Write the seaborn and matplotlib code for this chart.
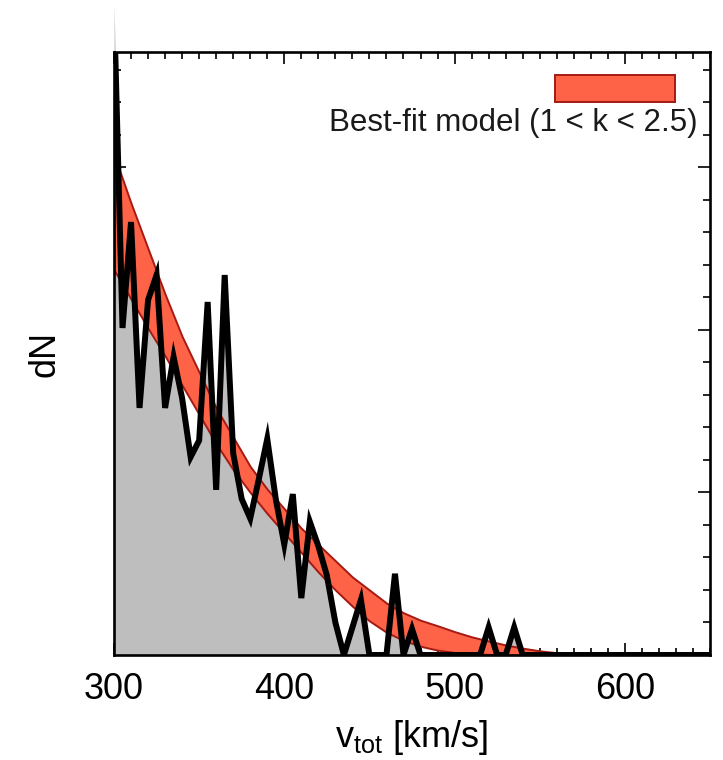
import numpy as np
import pandas as pd
import matplotlib
matplotlib.use("Agg")
import matplotlib.pyplot as plt
import seaborn as sns
from matplotlib.patches import Rectangle
from matplotlib.ticker import MultipleLocator, NullFormatter

# ---- data ----
v_hist = [300, 305, 310, 315, 320, 325, 330, 335, 340, 345, 350, 355, 360, 365,
          370, 375, 380, 385, 390, 395, 400, 405, 410, 415, 420, 425, 430, 435,
          440, 445, 450, 455, 460, 465, 470, 475, 480, 485, 490, 495, 500, 505,
          510, 515, 520, 525, 530, 535, 540, 545, 550, 560, 570, 580, 590, 600,
          610, 620, 630, 640, 650]
dN = [20.0, 10.06, 13.32, 7.6, 10.92, 11.69, 7.6, 9.17, 7.9, 6.09, 6.6, 10.86, 5.08, 11.69,
      6.2, 4.8, 4.2, 5.4, 6.65, 4.8, 3.4, 4.95, 1.75, 4.1, 3.35, 2.45, 1.0, 0.0,
      0.85, 1.7, 0.0, 0.0, 0.0, 2.5, 0.0, 0.8, 0.0, 0.0, 0.0, 0.0, 0.0, 0.0,
      0.0, 0.0, 0.85, 0.0, 0.0, 0.85, 0.0, 0.0, 0.0, 0.0, 0.0, 0.0, 0.0, 0.0,
      0.0, 0.0, 0.0, 0.0, 0.0]

v_model = [300, 310, 320, 330, 340, 350, 360, 370, 380, 390, 400, 410, 420, 430,
           440, 450, 460, 470, 480, 490, 500, 510, 520, 530, 540, 550, 560, 570, 580, 590]
model_upper = [15.4, 13.9, 12.5, 11.1, 9.8, 8.7, 7.6, 6.7, 5.8, 5.1, 4.5, 3.9, 3.4, 2.9,
               2.4, 2.0, 1.6, 1.3, 1.07, 0.9, 0.72, 0.56, 0.43, 0.31, 0.21, 0.13, 0.07, 0.03, 0.01, 0.0]
model_lower = [11.85, 10.95, 10.05, 9.2, 8.3, 7.4, 6.5, 5.7, 5.0, 4.35, 3.75, 3.15, 2.55, 2.0,
               1.5, 1.05, 0.7, 0.45, 0.27, 0.15, 0.08, 0.04, 0.02, 0.01, 0.0, 0.0, 0.0, 0.0, 0.0, 0.0]

legend_label = "Best-fit model (1 < k < 2.5)"
x_label = r"v$_{\mathrm{tot}}$ [km/s]"
y_label = "dN"

hist_df = pd.DataFrame({"v": v_hist, "dN": dN})
model_df = pd.DataFrame({"v": v_model, "upper": model_upper, "lower": model_lower})

# ---- style ----
sns.set_theme(style="ticks")
plt.rcParams["font.family"] = ["Liberation Sans", "DejaVu Sans"]
plt.rcParams["mathtext.fontset"] = "custom"
plt.rcParams["mathtext.rm"] = "Liberation Sans"
plt.rcParams["mathtext.it"] = "Liberation Sans:italic"
plt.rcParams["text.color"] = "black"
plt.rcParams["axes.labelcolor"] = "black"
plt.rcParams["xtick.color"] = "black"
plt.rcParams["ytick.color"] = "black"

fig = plt.figure(figsize=(7.23, 7.60), dpi=100)
ax = fig.add_axes([114 / 723, 1 - 655 / 760, 596 / 723, 603 / 760])

fill_red = "#FF6347"
edge_red = "#A51A12"
gray = "#BEBEBE"

# gray histogram fill (allowed to poke above frame like the reference)
ax.fill_between(hist_df["v"], 0, hist_df["dN"], color=gray, lw=0, zorder=1, clip_on=False)

# model band
ax.fill_between(model_df["v"], model_df["lower"], model_df["upper"],
                facecolor=fill_red, edgecolor=edge_red, linewidth=1.4, zorder=2)

# histogram line
sns.lineplot(data=hist_df, x="v", y="dN", ax=ax, color="black", linewidth=4.3,
             zorder=3, estimator=None, sort=False)
for ln in ax.lines:
    ln.set_solid_joinstyle("miter")

ax.set_xlim(300, 650)
ax.set_ylim(0, 18.55)

ax.xaxis.set_major_locator(MultipleLocator(100))
ax.xaxis.set_minor_locator(MultipleLocator(10))
ax.yaxis.set_major_locator(MultipleLocator(5))
ax.yaxis.set_minor_locator(MultipleLocator(1))
ax.yaxis.set_major_formatter(NullFormatter())

ax.tick_params(axis="both", which="both", direction="in", top=True, right=True,
               color="black", width=1.2)
ax.tick_params(axis="both", which="major", length=8.5)
ax.tick_params(axis="both", which="minor", length=5)
ax.tick_params(axis="x", which="major", labelsize=26, pad=12, labelcolor="black")
ax.tick_params(axis="y", labelleft=False)

for sp in ax.spines.values():
    sp.set_linewidth(1.9)
    sp.set_color("black")
    sp.set_visible(True)

ax.set_xlabel(x_label, fontsize=26, color="black")
ax.xaxis.set_label_coords(0.5, -0.105)
ax.xaxis.label.set_va("top")
ax.set_ylabel(y_label, fontsize=26, color="black")
ax.yaxis.set_label_coords(-0.087, 0.5)

# legend drawn IDL-style: patch above right-aligned text
ax.add_patch(Rectangle((0.74, 0.917), 0.201, 0.045, transform=ax.transAxes,
                       facecolor=fill_red, edgecolor=edge_red, linewidth=1.4, zorder=5))
ax.text(0.98, 0.882, legend_label, transform=ax.transAxes, ha="right", va="center",
        fontsize=22.5, color="#1a1a1a", zorder=5)

fig.savefig("out.png", dpi=100)
